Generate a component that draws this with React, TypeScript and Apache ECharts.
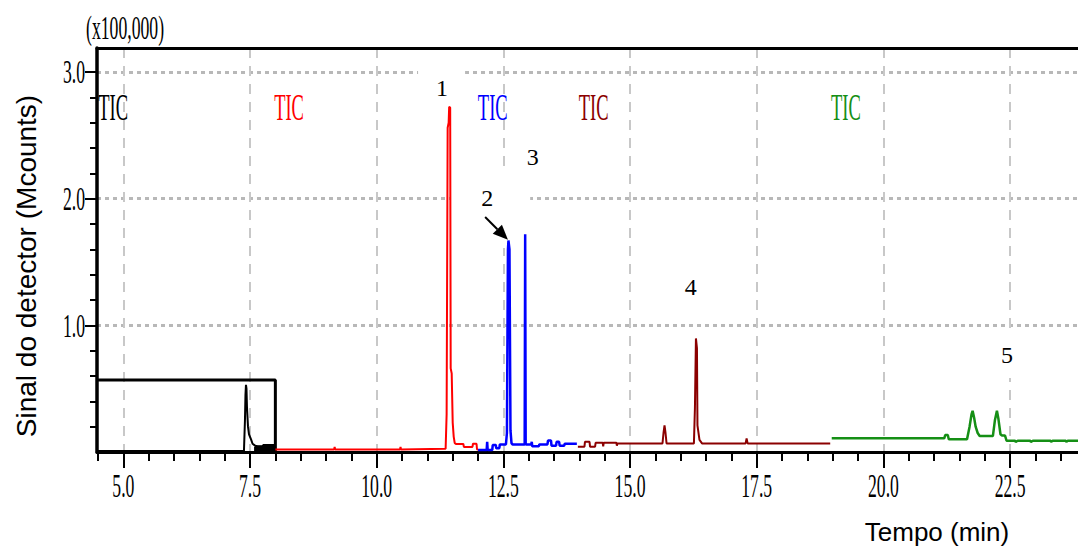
import React, { useEffect, useRef } from "react";
import * as echarts from "echarts";

// Axis ranges (time in minutes, signal in units of 100,000 counts)
const xMin = 4.48;
const xMax = 23.84;
const yMin = 0;
const yMax = 3.19;

// Tick positions and labels
const majorXTicks = [5, 7.5, 10, 12.5, 15, 17.5, 20, 22.5];
const xTickLabels = ["5.0", "7.5", "10.0", "12.5", "15.0", "17.5", "20.0", "22.5"];
const minorXTicks = [
  4.5, 5.5, 6, 6.5, 7, 8, 8.5, 9, 9.5, 10.5, 11, 11.5, 12, 13, 13.5, 14, 14.5,
  15.5, 16, 16.5, 17, 18, 18.5, 19, 19.5, 20.5, 21, 21.5, 22, 23, 23.5,
];
const majorYTicks = [1, 2, 3];
const yTickLabels = ["1.0", "2.0", "3.0"];
const minorYTicks = [0.2, 0.4, 0.6, 0.8, 1.2, 1.4, 1.6, 1.8, 2.2, 2.4, 2.6, 2.8];

// TIC acquisition windows
const blackWindow = [[4.48, 0.568], [8.0, 0.568], [8.0, 0.0]];
const blackTrace = [
  [4.48, 0.008], [7.38, 0.008], [7.4, 0.25], [7.41, 0.45], [7.42, 0.53], [7.43, 0.5],
  [7.44, 0.35], [7.46, 0.2], [7.48, 0.14], [7.52, 0.1], [7.55, 0.065], [7.6, 0.05],
  [7.65, 0.045], [7.75, 0.045], [7.76, 0.055], [8.0, 0.055],
];
const blackBlock = [[7.58, 0.035], [7.62, 0.045], [7.75, 0.045], [7.76, 0.055], [7.99, 0.055]];

const redTrace = [
  [8.0, 0.02], [9.16, 0.02], [9.17, 0.04], [9.18, 0.02], [10.46, 0.02], [10.47, 0.04],
  [10.48, 0.02], [11.36, 0.025], [11.38, 0.3], [11.4, 2.56], [11.42, 2.6], [11.43, 2.725],
  [11.45, 2.72], [11.46, 0.66], [11.48, 0.62], [11.5, 0.23], [11.52, 0.12], [11.54, 0.07],
  [11.57, 0.063], [11.71, 0.063], [11.72, 0.04], [11.89, 0.04], [11.9, 0.065], [11.97, 0.065],
  [11.98, 0.02], [12.0, 0.02],
];

const blueTrace = [
  [12.0, 0.015], [12.17, 0.015], [12.18, 0.08], [12.19, 0.015], [12.28, 0.015], [12.29, 0.055],
  [12.35, 0.055], [12.36, 0.03], [12.42, 0.03], [12.43, 0.06], [12.55, 0.06], [12.57, 0.15],
  [12.59, 1.6], [12.6, 1.67], [12.62, 1.6], [12.64, 0.17], [12.66, 0.07], [12.68, 0.06],
  [12.92, 0.06], [12.93, 1.72], [12.94, 0.06], [13.05, 0.06], [13.06, 0.08], [13.07, 0.045],
  [13.2, 0.045], [13.21, 0.06], [13.37, 0.06], [13.38, 0.09], [13.44, 0.09], [13.45, 0.05],
  [13.54, 0.05], [13.55, 0.08], [13.6, 0.08], [13.61, 0.05], [13.7, 0.05], [13.71, 0.065],
  [13.95, 0.065],
];

const darkRedTrace = [
  [13.97, 0.042], [14.1, 0.042], [14.11, 0.08], [14.2, 0.08], [14.21, 0.042], [14.31, 0.042],
  [14.32, 0.073], [14.46, 0.073], [14.47, 0.045], [14.48, 0.073], [14.73, 0.073], [14.74, 0.05],
  [14.75, 0.068], [15.64, 0.068], [15.66, 0.15], [15.68, 0.21], [15.7, 0.15], [15.72, 0.068],
  [16.26, 0.068], [16.28, 0.345], [16.3, 0.897], [16.32, 0.82], [16.33, 0.21], [16.37, 0.095],
  [16.42, 0.068], [17.28, 0.068], [17.3, 0.108], [17.32, 0.068], [18.95, 0.068],
];

const greenTrace = [
  [18.98, 0.108], [21.2, 0.108], [21.22, 0.134], [21.27, 0.134], [21.29, 0.1], [21.65, 0.1],
  [21.7, 0.2], [21.74, 0.3], [21.76, 0.325], [21.79, 0.27], [21.82, 0.2], [21.86, 0.15],
  [21.9, 0.126], [22.16, 0.126], [22.2, 0.25], [22.24, 0.325], [22.27, 0.26], [22.31, 0.14],
  [22.34, 0.13], [22.4, 0.13], [22.43, 0.089], [22.6, 0.089], [22.61, 0.08], [22.65, 0.089],
  [22.9, 0.089], [22.91, 0.08], [22.95, 0.089], [23.3, 0.089], [23.31, 0.08], [23.34, 0.089],
  [23.6, 0.089], [23.61, 0.08], [23.64, 0.089], [23.84, 0.089],
];

// Window captions
const ticLabels = ["TIC", "TIC", "TIC", "TIC", "TIC"];
const ticTimes = [4.8, 8.27, 12.29, 14.28, 19.26];
const ticColors = ["#000000", "#ff0000", "#0000ff", "#8b0000", "#158f15"];
const ticLevel = 2.72;

// Peak numbers, their positions and the white patches behind them
const peakLabels = ["1", "2", "3", "4", "5"];
const peakLabelPos = [[11.29, 2.873], [12.18, 2.005], [13.08, 2.33], [16.2, 1.3], [22.44, 0.766]];
const peakPatches = [[-24, -26, 47, 63], [-37, -26, 80, 76], [-18, -25, 40, 52], [-22, -25, 44, 50], [-22, -25, 45, 48]];

// Arrow pointing at peak 2
const arrowFrom = [12.14, 1.855];
const arrowTo = [12.59, 1.675];

const digitFont = "'Liberation Serif', 'Times New Roman', serif";
const titleFont = "'Liberation Sans', Arial, sans-serif";

function lineSeries(name: string, data: number[][], color: string, width: number, extra: any = {}) {
  return {
    name,
    type: "line",
    data,
    xAxisIndex: 0,
    yAxisIndex: 0,
    symbol: "none",
    showSymbol: false,
    lineStyle: { color, width },
    ...extra,
  };
}

export default function App() {
  const ref = useRef<HTMLDivElement>(null);

  useEffect(() => {
    document.body.style.margin = "0";
    const chart = echarts.init(ref.current!, null, { renderer: "svg" });

    chart.setOption({
      animation: false,
      backgroundColor: "#ffffff",
      grid: { left: 97, right: 0, top: 48, bottom: 94, containLabel: false },
      xAxis: [
        {
          type: "value",
          min: xMin,
          max: xMax,
          position: "bottom",
          axisLine: { show: true, onZero: false, lineStyle: { color: "#000", width: 3 } },
          axisTick: { show: true, customValues: majorXTicks, length: 16, lineStyle: { color: "#000", width: 2 } },
          axisLabel: { show: false },
          splitLine: { show: true, lineStyle: { color: "#c8c8c8", width: 2, type: [10, 8] } },
        },
        {
          type: "value",
          min: xMin,
          max: xMax,
          position: "bottom",
          axisLine: { show: false },
          axisTick: { show: true, customValues: minorXTicks, length: 9, lineStyle: { color: "#000", width: 2 } },
          axisLabel: { show: false },
          splitLine: { show: false },
        },
        {
          type: "value",
          min: xMin,
          max: xMax,
          position: "top",
          axisLine: { show: true, onZero: false, lineStyle: { color: "#000", width: 3 } },
          axisTick: { show: false },
          axisLabel: { show: false },
          splitLine: { show: false },
        },
      ],
      yAxis: [
        {
          type: "value",
          min: yMin,
          max: yMax,
          position: "left",
          axisLine: { show: true, onZero: false, lineStyle: { color: "#000", width: 3.5 } },
          axisTick: { show: true, customValues: majorYTicks, length: 12, lineStyle: { color: "#000", width: 2 } },
          axisLabel: { show: false },
          splitLine: { show: true, lineStyle: { color: "#b8b8b8", width: 3, type: [4, 4] } },
        },
        {
          type: "value",
          min: yMin,
          max: yMax,
          position: "left",
          axisLine: { show: false },
          axisTick: { show: true, customValues: minorYTicks, length: 7, lineStyle: { color: "#000", width: 2 } },
          axisLabel: { show: false },
          splitLine: { show: false },
        },
      ],
      series: [
        lineSeries("window", blackWindow, "#000000", 3),
        lineSeries("tic-black", blackTrace, "#000000", 2),
        lineSeries("tic-black-block", blackBlock, "#000000", 1, { areaStyle: { color: "#000000", opacity: 1 } }),
        lineSeries("tic-red", redTrace, "#ff0000", 2),
        lineSeries("tic-blue", blueTrace, "#0000ff", 2.5),
        lineSeries("tic-darkred", darkRedTrace, "#8b0000", 2),
        lineSeries("tic-green", greenTrace, "#158f15", 2.5),
      ],
    });

    const toPx = (p: number[]) => chart.convertToPixel({ xAxisIndex: 0, yAxisIndex: 0 }, p) as number[];
    const elements: any[] = [];
    const bottomY = toPx([xMin, yMin])[1];
    const leftX = toPx([xMin, yMin])[0];

    // Tick labels in a narrow digit face
    majorXTicks.forEach((v, i) => {
      const [px] = toPx([v, yMin]);
      elements.push({
        type: "text", x: px, y: bottomY + 34, scaleX: 0.52, z: 50,
        style: { text: xTickLabels[i], fill: "#000", fontFamily: digitFont, fontSize: 34, align: "center", verticalAlign: "middle" },
      });
    });
    majorYTicks.forEach((v, i) => {
      const [, py] = toPx([xMin, v]);
      elements.push({
        type: "text", x: leftX - 12, y: py, scaleX: 0.52, z: 50,
        style: { text: yTickLabels[i], fill: "#000", fontFamily: digitFont, fontSize: 34, align: "right", verticalAlign: "middle" },
      });
    });
    elements.push({
      type: "text", x: 86, y: 28, scaleX: 0.52, z: 50,
      style: { text: "(x100,000)", fill: "#000", fontFamily: digitFont, fontSize: 34, align: "left", verticalAlign: "middle" },
    });

    // Window captions
    ticTimes.forEach((t, i) => {
      const [px, py] = toPx([t, ticLevel]);
      elements.push({
        type: "text", x: px, y: py, scaleX: 0.5, z: 50,
        style: { text: ticLabels[i], fill: ticColors[i], fontFamily: digitFont, fontSize: 37, align: "center", verticalAlign: "middle" },
      });
    });

    // Peak numbers on white patches
    peakLabelPos.forEach((p, i) => {
      const [px, py] = toPx(p);
      const [dx, dy, w, h] = peakPatches[i];
      elements.push({
        type: "rect", z: 1, silent: true,
        shape: { x: px + dx, y: py + dy, width: w, height: h },
        style: { fill: "#ffffff" },
      });
      elements.push({
        type: "text", x: px, y: py, z: 50,
        style: { text: peakLabels[i], fill: "#000", fontFamily: digitFont, fontSize: 24, align: "center", verticalAlign: "middle" },
      });
    });

    // Arrow to peak 2
    const a0 = toPx(arrowFrom);
    const a1 = toPx(arrowTo);
    const ang = Math.atan2(a1[1] - a0[1], a1[0] - a0[0]);
    const headLen = 15;
    const headHalf = 6.5;
    const bx = a1[0] - headLen * Math.cos(ang);
    const by = a1[1] - headLen * Math.sin(ang);
    const nx = -Math.sin(ang);
    const ny = Math.cos(ang);
    elements.push({
      type: "line", z: 50,
      shape: { x1: a0[0], y1: a0[1], x2: bx, y2: by },
      style: { stroke: "#000", lineWidth: 2 },
    });
    elements.push({
      type: "polygon", z: 50,
      shape: { points: [[a1[0], a1[1]], [bx + nx * headHalf, by + ny * headHalf], [bx - nx * headHalf, by - ny * headHalf]] },
      style: { fill: "#000" },
    });

    // Axis titles
    elements.push({
      type: "text", x: 937, y: 532, z: 50,
      style: { text: "Tempo (min)", fill: "#000", fontFamily: titleFont, fontSize: 26, align: "center", verticalAlign: "middle" },
    });
    elements.push({
      type: "text", x: 26, y: 266, rotation: Math.PI / 2, z: 50,
      style: { text: "Sinal do detector (Mcounts)", fill: "#000", fontFamily: titleFont, fontSize: 28, align: "center", verticalAlign: "middle" },
    });

    chart.setOption({ graphic: { elements } });

    return () => chart.dispose();
  }, []);

  return <div ref={ref} style={{ width: 1078, height: 546 }} />;
}
